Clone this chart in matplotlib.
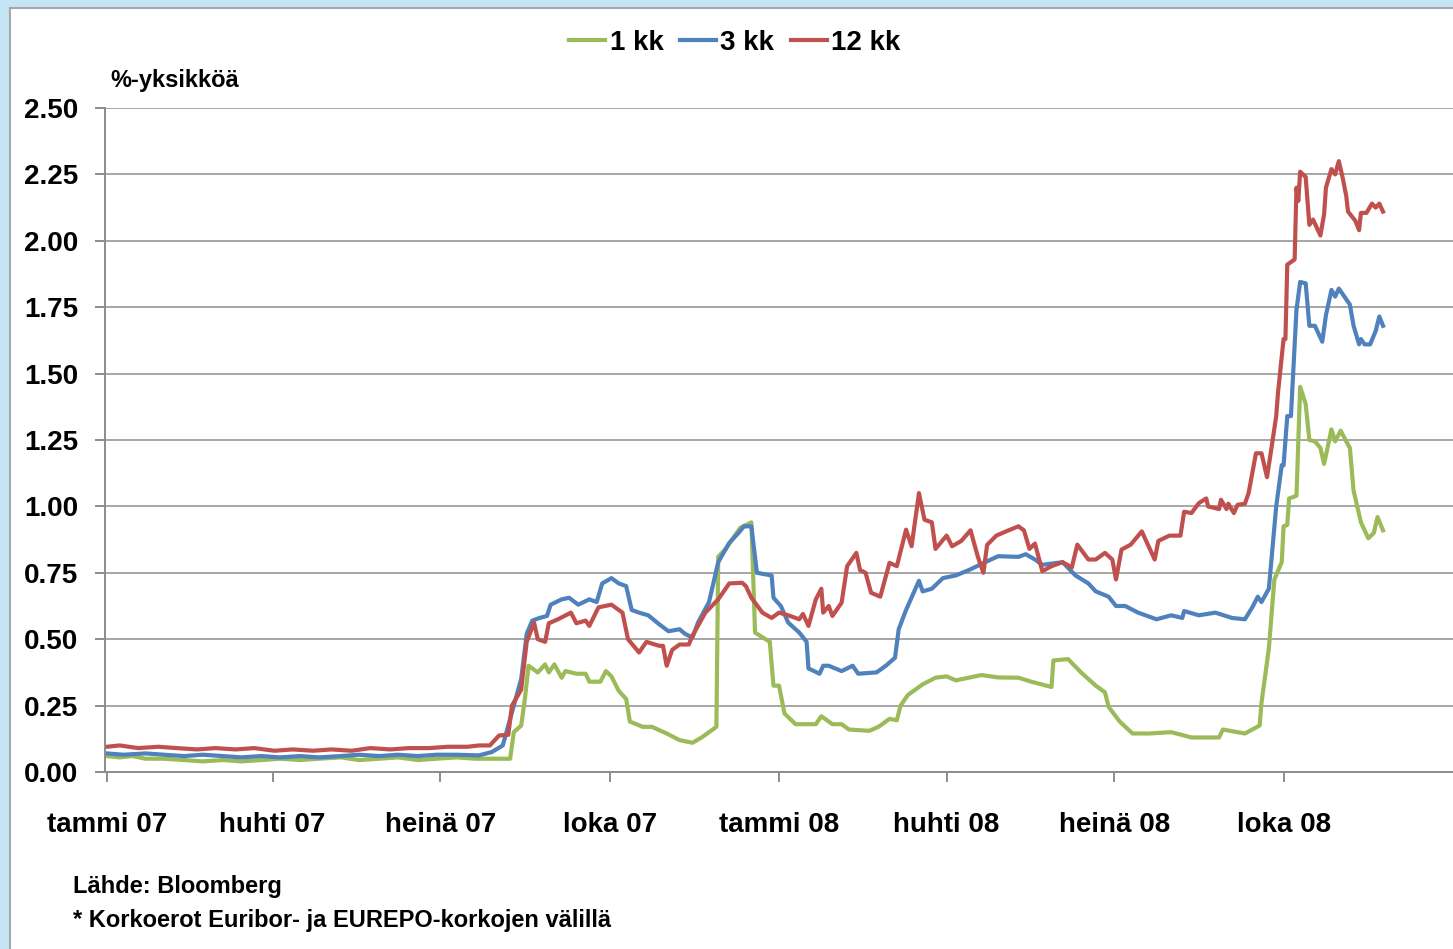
import matplotlib
matplotlib.use('Agg')
import matplotlib.pyplot as plt
from matplotlib.patches import Rectangle
import pandas as pd

# 1 kk spread
dates_1kk = ['2007-01-01', '2007-01-08', '2007-01-15', '2007-01-22', '2007-02-01', '2007-02-12', '2007-02-22',
             '2007-03-05', '2007-03-15', '2007-03-26', '2007-04-05', '2007-04-16', '2007-04-26', '2007-05-08',
             '2007-05-18', '2007-05-29', '2007-06-08', '2007-06-19', '2007-06-29', '2007-07-10', '2007-07-20',
             '2007-07-30', '2007-08-08', '2007-08-10', '2007-08-14', '2007-08-16', '2007-08-18', '2007-08-23',
             '2007-08-27', '2007-08-29', '2007-09-01', '2007-09-05', '2007-09-07', '2007-09-13', '2007-09-18',
             '2007-09-20', '2007-09-26', '2007-09-29', '2007-10-02', '2007-10-06', '2007-10-10', '2007-10-12',
             '2007-10-19', '2007-10-24', '2007-11-01', '2007-11-08', '2007-11-15', '2007-11-20', '2007-11-26',
             '2007-11-28', '2007-11-29', '2007-12-03', '2007-12-06', '2007-12-11', '2007-12-17', '2007-12-19',
             '2007-12-27', '2007-12-29', '2008-01-01', '2008-01-04', '2008-01-10', '2008-01-21', '2008-01-24',
             '2008-01-30', '2008-02-04', '2008-02-08', '2008-02-19', '2008-02-24', '2008-03-01', '2008-03-05',
             '2008-03-07', '2008-03-11', '2008-03-19', '2008-03-26', '2008-04-01', '2008-04-06', '2008-04-20',
             '2008-04-29', '2008-05-10', '2008-05-17', '2008-05-28', '2008-05-29', '2008-06-06', '2008-06-13',
             '2008-06-21', '2008-06-26', '2008-06-28', '2008-07-04', '2008-07-11', '2008-07-20', '2008-08-01',
             '2008-08-12', '2008-08-27', '2008-08-29', '2008-09-10', '2008-09-18', '2008-09-19', '2008-09-23',
             '2008-09-26', '2008-09-30', '2008-10-01', '2008-10-03', '2008-10-04', '2008-10-08', '2008-10-10',
             '2008-10-13', '2008-10-15', '2008-10-18', '2008-10-21', '2008-10-23', '2008-10-27', '2008-10-29',
             '2008-11-01', '2008-11-04', '2008-11-06', '2008-11-08', '2008-11-12', '2008-11-16', '2008-11-19',
             '2008-11-21', '2008-11-24']
kk1 = [0.06, 0.055, 0.06, 0.05, 0.05, 0.045, 0.04,
       0.045, 0.04, 0.045, 0.05, 0.045, 0.05, 0.055,
       0.045, 0.05, 0.055, 0.045, 0.05, 0.055, 0.05,
       0.05, 0.05, 0.15, 0.175, 0.275, 0.40, 0.375,
       0.405, 0.375, 0.405, 0.355, 0.38, 0.37, 0.37,
       0.34, 0.34, 0.38, 0.36, 0.305, 0.275, 0.19,
       0.17, 0.17, 0.145, 0.12, 0.11, 0.13, 0.16,
       0.17, 0.81, 0.84, 0.87, 0.92, 0.94, 0.525,
       0.49, 0.325, 0.325, 0.22, 0.18, 0.18, 0.21,
       0.18, 0.18, 0.16, 0.155, 0.17, 0.20, 0.195,
       0.25, 0.29, 0.33, 0.355, 0.36, 0.345, 0.365,
       0.356, 0.355, 0.34, 0.32, 0.42, 0.425, 0.375,
       0.325, 0.30, 0.245, 0.19, 0.145, 0.145, 0.15,
       0.13, 0.13, 0.16, 0.145, 0.175, 0.26, 0.465,
       0.725, 0.79, 0.925, 0.93, 1.03, 1.04, 1.45,
       1.385, 1.25, 1.245, 1.22, 1.16, 1.29, 1.245,
       1.285, 1.245, 1.22, 1.06, 0.94, 0.88, 0.90,
       0.96, 0.91]

# 3 kk spread
dates_3kk = ['2007-01-01', '2007-01-10', '2007-01-22', '2007-02-01', '2007-02-12', '2007-02-22', '2007-03-05',
             '2007-03-15', '2007-03-26', '2007-04-05', '2007-04-16', '2007-04-26', '2007-05-08', '2007-05-18',
             '2007-05-29', '2007-06-08', '2007-06-19', '2007-06-29', '2007-07-10', '2007-07-22', '2007-07-29',
             '2007-08-04', '2007-08-09', '2007-08-14', '2007-08-17', '2007-08-20', '2007-08-24', '2007-08-28',
             '2007-08-30', '2007-09-05', '2007-09-09', '2007-09-14', '2007-09-20', '2007-09-24', '2007-09-27',
             '2007-10-02', '2007-10-06', '2007-10-10', '2007-10-13', '2007-10-17', '2007-10-22', '2007-10-28',
             '2007-11-02', '2007-11-08', '2007-11-11', '2007-11-15', '2007-11-18', '2007-11-24', '2007-11-29',
             '2007-12-05', '2007-12-10', '2007-12-13', '2007-12-17', '2007-12-20', '2007-12-28', '2007-12-29',
             '2008-01-02', '2008-01-06', '2008-01-12', '2008-01-16', '2008-01-17', '2008-01-23', '2008-01-25',
             '2008-01-28', '2008-02-04', '2008-02-10', '2008-02-13', '2008-02-23', '2008-02-28', '2008-03-04',
             '2008-03-06', '2008-03-10', '2008-03-17', '2008-03-19', '2008-03-24', '2008-03-30', '2008-04-06',
             '2008-04-13', '2008-04-22', '2008-04-29', '2008-05-10', '2008-05-14', '2008-05-19', '2008-05-23',
             '2008-06-03', '2008-06-10', '2008-06-17', '2008-06-21', '2008-06-28', '2008-07-02', '2008-07-07',
             '2008-07-14', '2008-07-24', '2008-08-01', '2008-08-07', '2008-08-08', '2008-08-16', '2008-08-25',
             '2008-09-03', '2008-09-10', '2008-09-14', '2008-09-17', '2008-09-19', '2008-09-23', '2008-09-27',
             '2008-09-30', '2008-10-01', '2008-10-03', '2008-10-05', '2008-10-08', '2008-10-10', '2008-10-13',
             '2008-10-15', '2008-10-18', '2008-10-22', '2008-10-24', '2008-10-27', '2008-10-29', '2008-10-31',
             '2008-11-04', '2008-11-06', '2008-11-08', '2008-11-11', '2008-11-12', '2008-11-14', '2008-11-17',
             '2008-11-20', '2008-11-22', '2008-11-24']
kk3 = [0.07, 0.065, 0.07, 0.065, 0.06, 0.065, 0.06,
       0.055, 0.06, 0.055, 0.06, 0.055, 0.06, 0.065,
       0.06, 0.065, 0.06, 0.065, 0.065, 0.0625, 0.075,
       0.10, 0.225, 0.35, 0.52, 0.57, 0.58, 0.5875,
       0.63, 0.65, 0.656, 0.63, 0.65, 0.64, 0.71,
       0.73, 0.71, 0.70, 0.61, 0.60, 0.59, 0.556,
       0.53, 0.5375, 0.52, 0.506, 0.5625, 0.64, 0.79,
       0.8625, 0.90, 0.925, 0.925, 0.75, 0.74, 0.656,
       0.625, 0.5625, 0.525, 0.49, 0.39, 0.37, 0.40,
       0.40, 0.38, 0.40, 0.37, 0.375, 0.40, 0.43,
       0.5375, 0.61, 0.72, 0.68, 0.69, 0.73, 0.74,
       0.76, 0.79, 0.8125, 0.81, 0.82, 0.80, 0.78,
       0.79, 0.74, 0.71, 0.68, 0.66, 0.625, 0.625,
       0.60, 0.575, 0.59, 0.58, 0.606, 0.59, 0.60,
       0.58, 0.575, 0.62, 0.66, 0.64, 0.69, 1.00,
       1.155, 1.155, 1.34, 1.34, 1.74, 1.845, 1.84,
       1.68, 1.68, 1.62, 1.72, 1.815, 1.79, 1.82,
       1.78, 1.76, 1.68, 1.61, 1.63, 1.61, 1.61,
       1.66, 1.715, 1.68]

# 12 kk spread
dates_12kk = ['2007-01-01', '2007-01-08', '2007-01-18', '2007-01-29', '2007-02-08', '2007-02-19', '2007-03-01',
              '2007-03-12', '2007-03-22', '2007-04-02', '2007-04-12', '2007-04-23', '2007-05-03', '2007-05-14',
              '2007-05-24', '2007-06-04', '2007-06-14', '2007-06-25', '2007-07-05', '2007-07-16', '2007-07-22',
              '2007-07-28', '2007-08-02', '2007-08-07', '2007-08-09', '2007-08-14', '2007-08-17', '2007-08-21',
              '2007-08-23', '2007-08-27', '2007-08-29', '2007-09-03', '2007-09-10', '2007-09-13', '2007-09-18',
              '2007-09-20', '2007-09-25', '2007-10-02', '2007-10-08', '2007-10-11', '2007-10-17', '2007-10-21',
              '2007-10-28', '2007-10-30', '2007-11-01', '2007-11-04', '2007-11-08', '2007-11-13', '2007-11-15',
              '2007-11-22', '2007-11-29', '2007-12-05', '2007-12-12', '2007-12-14', '2007-12-17', '2007-12-23',
              '2007-12-28', '2008-01-01', '2008-01-06', '2008-01-12', '2008-01-14', '2008-01-17', '2008-01-21',
              '2008-01-24', '2008-01-25', '2008-01-28', '2008-01-30', '2008-02-04', '2008-02-07', '2008-02-12',
              '2008-02-14', '2008-02-17', '2008-02-20', '2008-02-25', '2008-03-01', '2008-03-05', '2008-03-10',
              '2008-03-13', '2008-03-17', '2008-03-20', '2008-03-24', '2008-03-26', '2008-04-01', '2008-04-04',
              '2008-04-09', '2008-04-14', '2008-04-18', '2008-04-21', '2008-04-23', '2008-04-28', '2008-05-03',
              '2008-05-10', '2008-05-13', '2008-05-16', '2008-05-19', '2008-05-23', '2008-05-28', '2008-06-03',
              '2008-06-08', '2008-06-11', '2008-06-17', '2008-06-21', '2008-06-26', '2008-06-30', '2008-07-02',
              '2008-07-05', '2008-07-10', '2008-07-16', '2008-07-23', '2008-07-25', '2008-07-31', '2008-08-06',
              '2008-08-08', '2008-08-12', '2008-08-16', '2008-08-20', '2008-08-21', '2008-08-27', '2008-08-28',
              '2008-08-31', '2008-09-01', '2008-09-04', '2008-09-06', '2008-09-10', '2008-09-12', '2008-09-16',
              '2008-09-19', '2008-09-22', '2008-09-24', '2008-09-27', '2008-09-28', '2008-10-01', '2008-10-02',
              '2008-10-03', '2008-10-07', '2008-10-08', '2008-10-09', '2008-10-10', '2008-10-13', '2008-10-15',
              '2008-10-17', '2008-10-21', '2008-10-23', '2008-10-24', '2008-10-27', '2008-10-29', '2008-10-31',
              '2008-11-02', '2008-11-04', '2008-11-05', '2008-11-09', '2008-11-11', '2008-11-12', '2008-11-15',
              '2008-11-18', '2008-11-20', '2008-11-22', '2008-11-24']
kk12 = [0.095, 0.10, 0.09, 0.095, 0.09, 0.085, 0.09,
        0.085, 0.09, 0.08, 0.085, 0.08, 0.085, 0.08,
        0.09, 0.085, 0.09, 0.09, 0.095, 0.095, 0.10,
        0.10, 0.1375, 0.14, 0.25, 0.31, 0.49, 0.5625,
        0.50, 0.49, 0.56, 0.575, 0.60, 0.56, 0.57,
        0.55, 0.62, 0.63, 0.60, 0.50, 0.45, 0.49,
        0.475, 0.475, 0.40, 0.46, 0.48, 0.48, 0.5125,
        0.60, 0.65, 0.71, 0.7125, 0.70, 0.656, 0.60,
        0.58, 0.60, 0.59, 0.575, 0.595, 0.55, 0.65,
        0.69, 0.60, 0.625, 0.5875, 0.6375, 0.775, 0.825,
        0.76, 0.75, 0.675, 0.66, 0.7875, 0.775, 0.9125,
        0.85, 1.05, 0.95, 0.94, 0.84, 0.89, 0.85,
        0.87, 0.91, 0.81, 0.75, 0.855, 0.89, 0.905,
        0.925, 0.91, 0.84, 0.86, 0.756, 0.775, 0.79,
        0.77, 0.856, 0.80, 0.80, 0.825, 0.80, 0.725,
        0.8375, 0.856, 0.906, 0.80, 0.87, 0.89, 0.89,
        0.98, 0.975, 1.0125, 1.03, 1.00, 0.99, 1.025,
        0.99, 1.01, 0.975, 1.006, 1.01, 1.05, 1.20,
        1.20, 1.11, 1.20, 1.34, 1.43, 1.63, 1.63,
        1.91, 1.93, 2.20, 2.15, 2.26, 2.24, 2.06,
        2.08, 2.02, 2.10, 2.20, 2.27, 2.25, 2.30,
        2.24, 2.17, 2.11, 2.075, 2.04, 2.105, 2.105,
        2.14, 2.125, 2.14, 2.11]

series_labels = ['1 kk', '3 kk', '12 kk']
tick_dates = ['2007-01-01', '2007-04-01', '2007-07-01', '2007-10-01',
              '2008-01-01', '2008-04-01', '2008-07-01', '2008-10-01']
tick_labels = ['tammi 07', 'huhti 07', 'heinä 07', 'loka 07',
               'tammi 08', 'huhti 08', 'heinä 08', 'loka 08']
y_ticks = [0.0, 0.25, 0.5, 0.75, 1.0, 1.25, 1.5, 1.75, 2.0, 2.25, 2.5]

W, H = 1453, 949
fig = plt.figure(figsize=(W / 100, H / 100), dpi=100)
fig.patch.set_facecolor('#c3e5f6')
# white chart panel inside the light blue frame
fig.patches.append(Rectangle((10 / W, -0.01), 1.0, 1 - 8 / H + 0.01, transform=fig.transFigure,
                             facecolor='white', edgecolor='#a8a8a8', linewidth=1.5, zorder=-10))

ax = fig.add_axes([105 / W, 1 - 772 / H, 1 - 105 / W, (772 - 108) / H])
ax.set_facecolor('none')

font = 'Liberation Sans'
colors = ['#9bbb59', '#4f81bd', '#c0504d']
for d, v, lab, c in zip([dates_1kk, dates_3kk, dates_12kk], [kk1, kk3, kk12], series_labels, colors):
    ax.plot(pd.to_datetime(d), v, color=c, lw=3.0, label=lab, solid_joinstyle='round')

ax.set_ylim(0, 2.5)
ax.set_xlim(pd.Timestamp('2006-12-31'), pd.Timestamp('2009-01-01'))
ax.set_yticks(y_ticks)
ax.set_yticklabels(['%.2f' % t for t in y_ticks], fontsize=20, fontweight='bold', family=font)
ax.set_xticks(pd.to_datetime(tick_dates))
ax.set_xticklabels(tick_labels, fontsize=20, fontweight='bold', family=font)
ax.grid(axis='y', color='#a6a6a6', lw=1.4)
ax.set_axisbelow(True)
for s in ['top', 'right']:
    ax.spines[s].set_visible(False)
for s in ['left', 'bottom']:
    ax.spines[s].set_color('#8c8c8c')
    ax.spines[s].set_linewidth(1.4)
ax.tick_params(axis='y', length=7, width=1.4, color='#8c8c8c', pad=12)
ax.tick_params(axis='x', length=7, width=1.4, color='#8c8c8c', pad=22)

fig.legend(loc='center', bbox_to_anchor=(735 / W, 1 - 43 / H), ncol=3, frameon=False,
           handlelength=1.3, handletextpad=0.15, columnspacing=0.6,
           prop={'family': font, 'weight': 'bold', 'size': 20})

fig.text(110 / W, 1 - 80 / H, '%-yksikköä', fontsize=17, fontweight='bold', family=font,
         ha='left', va='center')
fig.text(73 / W, 1 - 887 / H, 'Lähde: Bloomberg', fontsize=17, fontweight='bold', family=font,
         ha='left', va='center')
fig.text(73 / W, 1 - 921 / H, '* Korkoerot Euribor- ja EUREPO-korkojen välillä', fontsize=17,
         fontweight='bold', family=font, ha='left', va='center')

fig.savefig('out.png', dpi=100, facecolor=fig.get_facecolor())
